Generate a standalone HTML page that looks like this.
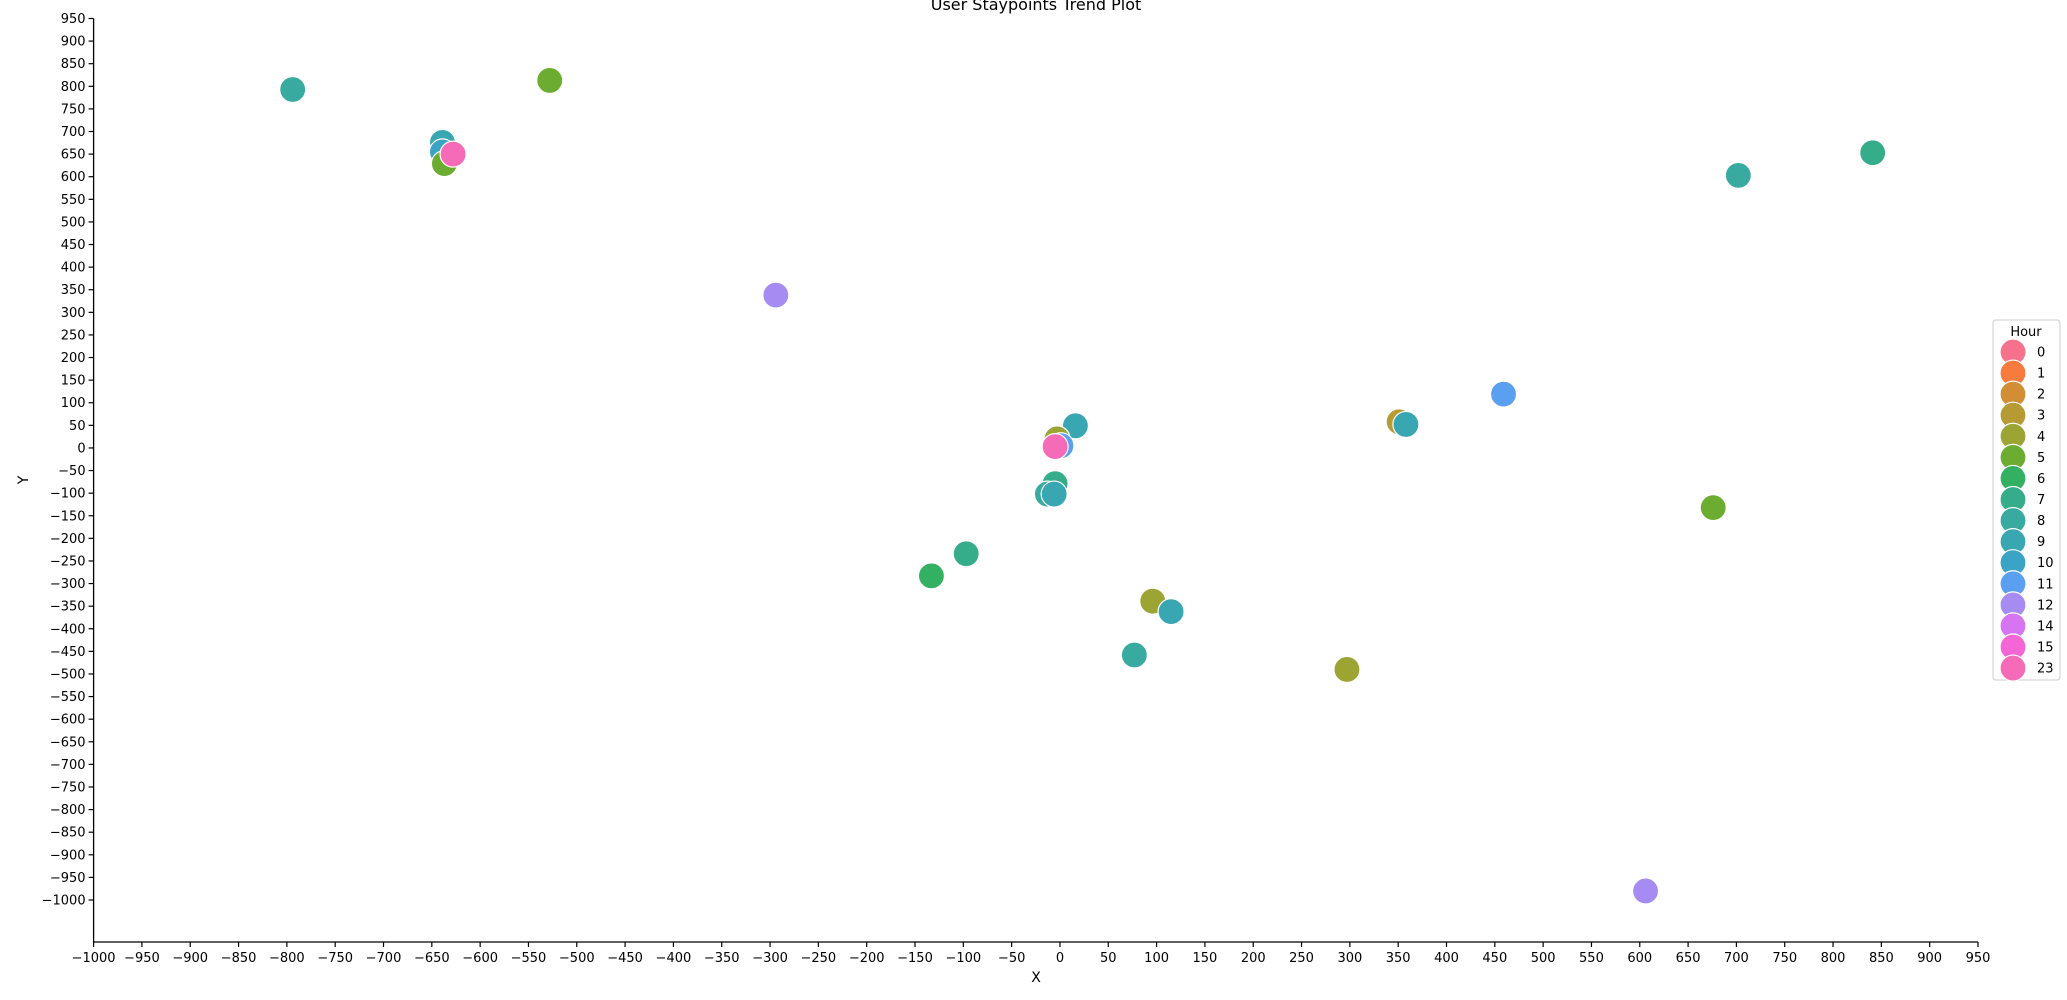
<!DOCTYPE html>
<html><head><meta charset="utf-8"><style>
html,body{margin:0;padding:0;background:#fff;}
svg{display:block;font-family:"DejaVu Sans","Liberation Sans",sans-serif;}
</style></head><body>
<svg id="chart" width="2067" height="1000" xmlns="http://www.w3.org/2000/svg"></svg>
<script>
const xs = [-794,-528,-639,-639,-637,-628,-294,841,702,459,351,358,16,-3,1,-5,-5,-13,-6,-97,-133,96,115,77,297,676,606];
const ys = [793,813,676,655,629,650,338,653,603,119,58,52,49,20,5,3,-79,-102,-102,-234,-283,-339,-362,-458,-490,-132,-980];
const hours = [8,5,9,10,5,23,12,7,8,11,3,9,9,4,11,23,7,8,9,7,6,4,9,8,4,5,12];
const legendHours = [0,1,2,3,4,5,6,7,8,9,10,11,12,14,15,23];
const legendColors = ["#f6718b","#f67b3c","#d28e35","#b69a34","#9ca434","#6bac31","#33b062","#36ad8a","#38aaa0","#39a7b1","#3ba3c6","#5b9ff0","#a68cf2","#d774f2","#f465d6","#f56bb8"];
const xTicks = []; for (let v=-1000; v<=950; v+=50) xTicks.push(v);
const yTicks = []; for (let v=950; v>=-1000; v-=50) yTicks.push(v);

const NS="http://www.w3.org/2000/svg";
const svg=document.getElementById('chart');
const X0=93.6, X1=1978, Y0=18.5, Y1=900;
const sx=v=>X0+(v+1000)/1950*(X1-X0);
const sy=v=>Y0+(950-v)/1950*(Y1-Y0);
function mk(tag,attrs,parent){const e=document.createElementNS(NS,tag);for(const k in attrs)e.setAttribute(k,attrs[k]);(parent||svg).appendChild(e);return e;}
const colorOf=h=>legendColors[legendHours.indexOf(h)];

let t=mk('text',{x:1036,y:10,'text-anchor':'middle','font-size':16,fill:'#000'});t.textContent='User Staypoints Trend Plot';



let ax=mk('line',{x1:X0,y1:942,x2:X1,y2:942,stroke:'#000','stroke-width':1.3});


let ay=mk('line',{x1:X0,y1:Y0,x2:X0,y2:942,stroke:'#000','stroke-width':1.3});



xTicks.forEach(v=>{
  const x=sx(v);
  mk('line',{x1:x,y1:942,x2:x,y2:947,stroke:'#000','stroke-width':1.2});
  const l=mk('text',{x:x,y:962,'text-anchor':'middle','font-size':13,fill:'#000'});
  l.textContent=String(v).replace('-','\u2212');
  
  
});
yTicks.forEach(v=>{
  const y=sy(v);
  mk('line',{x1:X0-5,y1:y,x2:X0,y2:y,stroke:'#000','stroke-width':1.2});
  const l=mk('text',{x:X0-8,y:y+4.5,'text-anchor':'end','font-size':13,fill:'#000'});
  l.textContent=String(v).replace('-','\u2212');
  
  
});
let xl=mk('text',{x:1036,y:982,'text-anchor':'middle','font-size':14,fill:'#000'});xl.textContent='X';


let yl=mk('text',{x:28,y:480,'text-anchor':'middle','font-size':14,fill:'#000',transform:'rotate(-90 28 480)'});yl.textContent='Y';



xs.forEach((v,i)=>{
  const c=mk('circle',{cx:sx(v),cy:sy(ys[i]),r:13,fill:colorOf(hours[i]),stroke:'#fff','stroke-width':1.2});
  
  
});

const lg=mk('g',{});


mk('rect',{x:1993,y:320,width:67,height:360,rx:3,fill:'#fff',stroke:'#ccc','stroke-width':1},lg);
let lt=mk('text',{x:2026,y:336,'text-anchor':'middle','font-size':13,fill:'#000'},lg);lt.textContent='Hour';


legendHours.forEach((h,i)=>{
  const y=352+i*21.07;
  const c=mk('circle',{cx:2013,cy:y,r:13,fill:legendColors[i],stroke:'#fff','stroke-width':1.2},lg);
  
  
  const tx=mk('text',{x:2037,y:y+4.5,'font-size':13,fill:'#000'},lg);tx.textContent=h;
  
  
});
</script>
</body></html>
